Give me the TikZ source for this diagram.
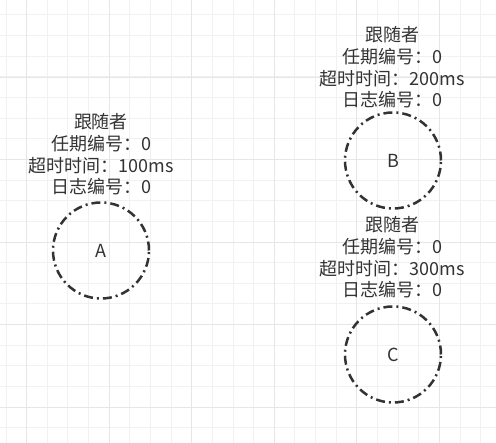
\documentclass[tikz,border=0pt]{standalone}
\usepackage{fontspec}
\setmainfont{Noto Sans CJK SC}
\definecolor{gridminor}{HTML}{F1F1F1}
\definecolor{gridmajor}{HTML}{E6E6E6}
\definecolor{ink}{HTML}{333333}
\begin{document}
\begin{tikzpicture}[x=1pt,y=-1pt,
  minorline/.style={draw=gridminor,line width=1pt},
  majorline/.style={draw=gridmajor,line width=1pt},
  follower/.style={circle,draw=ink,line width=2.5pt,minimum size=96pt,inner sep=0pt,
    dash pattern=on 9pt off 4pt on 2pt off 4pt,text=ink,font=\fontsize{18}{21.7}\selectfont},
  infotext/.style={align=center,inner sep=0pt,text=ink,font=\fontsize{18}{21.7}\selectfont}]
\useasboundingbox (0,0) rectangle (496,443);
\fill[white] (0,0) rectangle (496,443);
\begin{scope}
\clip (0,0) rectangle (496,443);
\foreach \i in {0,...,23} \draw[minorline] ({6+20.64*\i},0) -- ({6+20.64*\i},443);
\foreach \i in {0,...,20} \draw[minorline] (0,{15+20.64*\i}) -- (496,{15+20.64*\i});
\foreach \i in {0,...,5} \draw[majorline] ({26.64+82.56*\i},0) -- ({26.64+82.56*\i},443);
\foreach \i in {0,...,4} \draw[majorline] (0,{77.3+82.56*\i}) -- (496,{77.3+82.56*\i});
\end{scope}
\node[follower] (A) at (101,250.5) {A};
\node[follower] (B) at (393,160.5) {B};
\node[follower] (C) at (393,354.5) {C};
\node[infotext] (tA) at (101,154.5) {跟随者\\任期编号：0\\超时时间：100ms\\日志编号：0};
\node[infotext] (tB) at (392.5,67.5) {跟随者\\任期编号：0\\超时时间：200ms\\日志编号：0};
\node[infotext] (tC) at (392.5,257.5) {跟随者\\任期编号：0\\超时时间：300ms\\日志编号：0};
\end{tikzpicture}
\end{document}
